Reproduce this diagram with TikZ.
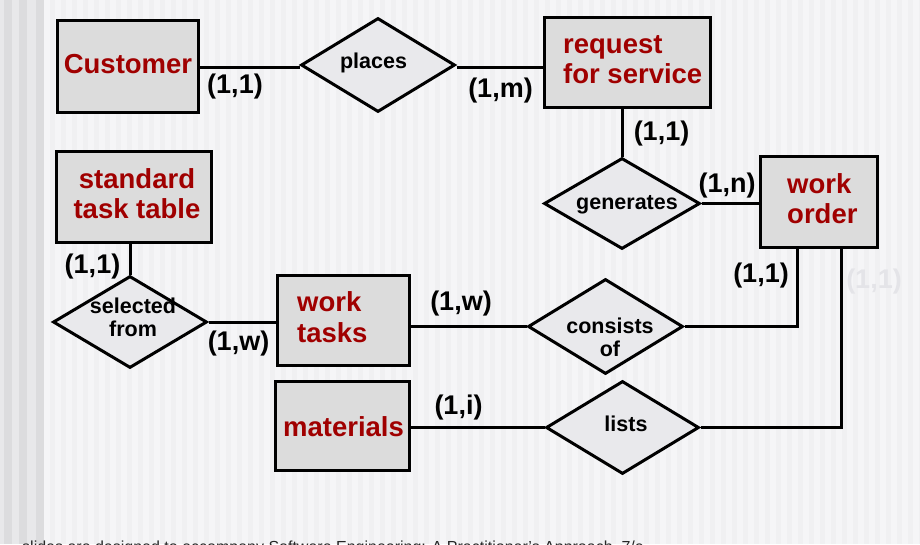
\documentclass[tikz,border=0pt]{standalone}
\usepackage{fontspec}
\setmainfont{Liberation Sans}
\usetikzlibrary{shapes.geometric,calc}
\definecolor{bgc}{HTML}{F5F5F7}
\definecolor{stripec}{HTML}{F0F0F2}
\definecolor{darkstripe}{HTML}{DCDCDE}
\definecolor{lightstripe}{HTML}{E8E8EA}
\definecolor{entfill}{HTML}{DCDCDC}
\definecolor{relfill}{HTML}{E9E9EC}
\definecolor{entred}{HTML}{A00000}
\definecolor{faint}{HTML}{E4E4E8}
\tikzset{
  entity/.style={draw=black, line width=3.5pt, fill=entfill, inner sep=0pt, rectangle},
  rel/.style={draw=black, line width=3pt, fill=relfill, inner sep=0pt, diamond},
  enttext/.style={text=entred, font=\fontsize{27.5}{30}\selectfont\bfseries, inner sep=0pt, anchor=base},
  reltext/.style={text=black, font=\fontsize{21.5}{24}\selectfont\bfseries, inner sep=0pt, anchor=base},
  card/.style={text=black, font=\fontsize{27}{30}\selectfont\bfseries, inner sep=0pt, anchor=base},
  conn/.style={draw=black, line width=3pt}
}
\begin{document}
\begin{tikzpicture}[x=1pt,y=-1pt]
\useasboundingbox (0,0) rectangle (920,544);
\clip (0,0) rectangle (920,544);
\fill[bgc] (0,0) rectangle (920,544);
\foreach \x in {50,61,...,920} \fill[stripec] (\x,0) rectangle ++(5,544);
\fill[lightstripe] (0,0) rectangle (44,544);
\foreach \x in {4,19,36} \fill[darkstripe] (\x,0) rectangle ++(8,544);

% entities
\node[entity, minimum width=141pt, minimum height=92pt] (cust) at (128,66.5) {};
\node[entity, minimum width=166pt, minimum height=90pt] (req) at (627.5,62.5) {};
\node[entity, minimum width=117pt, minimum height=91pt] (wo) at (819,202) {};
\node[entity, minimum width=155pt, minimum height=91pt] (std) at (134,197) {};
\node[entity, minimum width=132pt, minimum height=90pt] (wt) at (343.5,320.5) {};
\node[entity, minimum width=134pt, minimum height=89pt] (mat) at (342.5,426) {};

% relationships
\node[rel, minimum width=154pt, minimum height=94pt] (places) at (378,65) {};
\node[rel, minimum width=156pt, minimum height=91pt] (gen) at (622,203.5) {};
\node[rel, minimum width=154pt, minimum height=92pt] (sel) at (130,322) {};
\node[rel, minimum width=155pt, minimum height=95pt] (cons) at (605.5,326.5) {};
\node[rel, minimum width=153pt, minimum height=93pt] (lists) at (622.5,427.5) {};

% connectors
\draw[conn] (cust.east |- 0,67) -- (places.west |- 0,67);
\draw[conn] (places.east |- 0,67) -- (req.west |- 0,67);
\draw[conn] (gen.north) -- (gen.north |- req.south);
\draw[conn] (gen.east) -- (wo.west |- gen.east);
\draw[conn] (cons.east) -| ($(wo.south west)+(39,0)$);
\draw[conn] (lists.east) -| ($(wo.south west)+(83,0)$);
\draw[conn] (sel.north) -- (sel.north |- std.south);
\draw[conn] (sel.east) -- (wt.west |- sel.east);
\draw[conn] (cons.west) -- (wt.east |- cons.west);
\draw[conn] (mat.east |- lists.west) -- (lists.west);

% entity texts
\node[enttext] (tcust) at (128,73) {Customer};
\node[enttext, anchor=base west] (treq1) at (563,53) {request};
\node[enttext, anchor=base west] (treq2) at (563,83) {for service};
\node[enttext, anchor=base west] (two1) at (787,193) {work};
\node[enttext, anchor=base west] (two2) at (787,223) {order};
\node[enttext] (tstd1) at (137,188) {standard};
\node[enttext] (tstd2) at (137,218) {task table};
\node[enttext, anchor=base west] (twt1) at (297,311) {work};
\node[enttext, anchor=base west] (twt2) at (297,342) {tasks};
\node[enttext] (tmat) at (343.5,436) {materials};

% relationship texts
\node[reltext] (tplaces) at (373.5,68) {places};
\node[reltext] (tgen) at (627,209) {generates};
\node[reltext] (tsel1) at (133,313) {selected};
\node[reltext] (tsel2) at (133,336) {from};
\node[reltext] (tcons1) at (610,333) {consists};
\node[reltext] (tcons2) at (610,356) {of};
\node[reltext] (tlists) at (626,431) {lists};

% cardinalities
\node[card] (c1) at (235,93) {(1,1)};
\node[card] (c2) at (500.5,97) {(1,m)};
\node[card] (c3) at (661.5,140) {(1,1)};
\node[card] (c4) at (727,192) {(1,n)};
\node[card] (c5) at (761,282) {(1,1)};
\node[card, text=faint] (c6) at (874,288) {(1,1)};
\node[card] (c7) at (92.5,273) {(1,1)};
\node[card] (c8) at (238.5,350) {(1,w)};
\node[card] (c9) at (461,310) {(1,w)};
\node[card] (c10) at (458.5,414) {(1,i)};

% footer (cut off at the bottom edge, as in the reference)
\node[anchor=base west, inner sep=0pt, text=black!85, font=\fontsize{16}{18}\selectfont] (footer) at (22,552) {slides are designed to accompany Software Engineering: A Practitioner's Approach, 7/e};
\end{tikzpicture}
\end{document}
